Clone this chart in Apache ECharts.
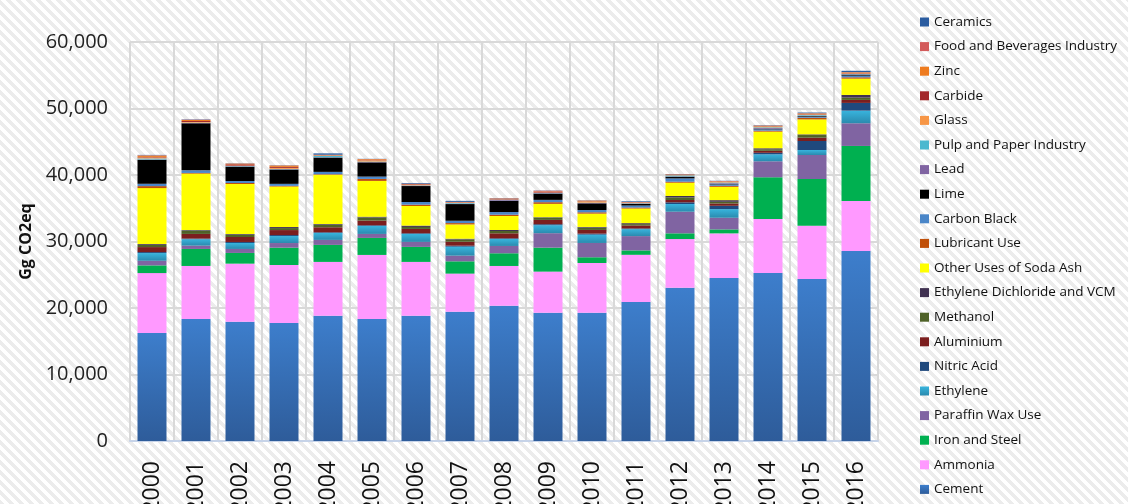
<!DOCTYPE html>
<html>
<head>
<meta charset="utf-8">
<script src="https://cdn.jsdelivr.net/npm/echarts@6.0.0/dist/echarts.min.js"></script>
<style>
  html, body { margin: 0; padding: 0; background: #fff; }
  #chart {
    width: 1128px;
    height: 504px;
    /* 斜线底纹 */
    background: repeating-linear-gradient(45deg, #ECECEC 0px, #ECECEC 3px, #ffffff 3px, #ffffff 7.07px);
  }
</style>
</head>
<body>
<div id="chart"></div>
<script>
// 年份
const years = ['2000', '2001', '2002', '2003', '2004', '2005', '2006', '2007', '2008',
  '2009', '2010', '2011', '2012', '2013', '2014', '2015', '2016'];

// 各排放源 (Gg CO2eq)，从下往上堆叠
const cement = [16250, 18350, 17950, 17750, 18850, 18350, 18850, 19450, 20350, 19300, 19300, 20900, 23050, 24500, 25270, 24360, 28580];
const ammonia = [9000, 7970, 8720, 8720, 8080, 9630, 8080, 5720, 5970, 6170, 7470, 7100, 7320, 6720, 8120, 8020, 7520];
const ironSteel = [1160, 2560, 1610, 2600, 2560, 2560, 2260, 1850, 1910, 3610, 860, 660, 860, 600, 6270, 7020, 8270];
const paraffinWax = [690, 500, 600, 700, 750, 600, 750, 850, 1100, 2170, 2150, 2150, 3250, 1750, 2400, 3610, 3410];
const ethylene = [1160, 960, 900, 1050, 1050, 1200, 1200, 1350, 1050, 1200, 1250, 1050, 1160, 1300, 1050, 750, 1900];
const nitricAcid = [150, 100, 150, 150, 100, 100, 100, 150, 100, 150, 150, 100, 250, 500, 230, 1350, 1160];
const aluminium = [750, 700, 750, 750, 750, 700, 650, 600, 750, 650, 560, 450, 350, 350, 300, 500, 450];
const methanol = [330, 520, 350, 300, 400, 480, 300, 350, 350, 350, 350, 200, 400, 250, 230, 400, 350];
const edcVcm = [120, 80, 100, 150, 100, 120, 200, 100, 150, 60, 100, 150, 200, 250, 150, 100, 400];
const sodaAsh = [8420, 8470, 7520, 6100, 7400, 5370, 2950, 2150, 2100, 2000, 2000, 2200, 2000, 2000, 2500, 2250, 2450];
const lubricant = [300, 100, 150, 100, 80, 300, 200, 200, 200, 250, 200, 150, 150, 150, 150, 250, 200];
const carbonBlack = [350, 390, 300, 300, 350, 350, 400, 350, 400, 350, 350, 300, 500, 220, 200, 150, 250];
const lime = [3610, 7070, 2150, 2150, 2150, 2140, 2400, 2510, 1700, 950, 1000, 250, 250, 80, 100, 100, 150];
const lead = [50, 50, 50, 50, 50, 50, 50, 50, 100, 50, 50, 50, 50, 100, 100, 50, 50];
const pulpPaper = [150, 50, 50, 50, 200, 70, 50, 100, 50, 50, 50, 50, 150, 100, 100, 100, 50];
const glass = [150, 100, 60, 150, 50, 150, 50, 50, 50, 50, 150, 50, 50, 100, 100, 100, 100];
const carbide = [80, 150, 200, 150, 50, 50, 100, 50, 100, 150, 50, 50, 50, 50, 50, 50, 50];
const zinc = [200, 150, 100, 200, 50, 150, 50, 50, 50, 50, 100, 50, 50, 50, 100, 100, 100];
const foodBeverages = [50, 50, 30, 30, 30, 30, 50, 30, 30, 80, 30, 30, 30, 30, 30, 30, 30];
const ceramics = [50, 50, 30, 30, 200, 30, 100, 150, 30, 30, 30, 100, 30, 30, 50, 100, 200];

// y 轴刻度
const yTicks = [0, 10000, 20000, 30000, 40000, 50000, 60000];

// 系列：名称、数据、颜色（底部在前）
const seriesDefs = [
  ['Cement', cement, ['#3D7ECC', '#2E5C9A']],
  ['Ammonia', ammonia, '#FF99FF'],
  ['Iron and Steel', ironSteel, '#00B050'],
  ['Paraffin Wax Use', paraffinWax, '#8064A2'],
  ['Ethylene', ethylene, ['#38B4DD', '#2A8AAE']],
  ['Nitric Acid', nitricAcid, '#1F497D'],
  ['Aluminium', aluminium, '#7B1E1E'],
  ['Methanol', methanol, '#4F6228'],
  ['Ethylene Dichloride and VCM', edcVcm, '#403151'],
  ['Other Uses of Soda Ash', sodaAsh, '#FFFF00'],
  ['Lubricant Use', lubricant, '#C0500A'],
  ['Carbon Black', carbonBlack, '#4A86C8'],
  ['Lime', lime, '#000000'],
  ['Lead', lead, '#8064A2'],
  ['Pulp and Paper Industry', pulpPaper, '#4BB8CF'],
  ['Glass', glass, '#F79646'],
  ['Carbide', carbide, '#A3282B'],
  ['Zinc', zinc, '#EE7B1F'],
  ['Food and Beverages Industry', foodBeverages, '#D35B5B'],
  ['Ceramics', ceramics, '#2A5CA0'],
];

function fillOf(color) {
  if (Array.isArray(color)) {
    return new echarts.graphic.LinearGradient(0, 0, 0, 1, [
      { offset: 0, color: color[0] },
      { offset: 1, color: color[1] },
    ]);
  }
  return color;
}

const chart = echarts.init(document.getElementById('chart'));

const option = {
  backgroundColor: 'transparent',
  animation: false,
  grid: { left: 130, right: 250, top: 42, bottom: 63, outerBoundsMode: 'none', containLabel: false },
  legend: {
    orient: 'vertical',
    left: 920,
    top: 15,
    padding: 0,
    icon: 'rect',
    itemWidth: 9,
    itemHeight: 9,
    itemGap: 10.6,
    data: seriesDefs.map((d) => d[0]).reverse(),
    textStyle: {
      fontFamily: 'Open Sans',
      fontSize: 13.5,
      lineHeight: 14,
      color: '#111',
    },
  },
  xAxis: {
    type: 'category',
    data: years,
    axisLine: { lineStyle: { color: '#C6D3E8', width: 2 } },
    axisTick: { show: false },
    splitLine: { show: true, lineStyle: { color: '#D9D9D9', width: 2 } },
    axisLabel: {
      rotate: 90,
      margin: 20,
      fontFamily: 'Open Sans',
      fontSize: 23,
      color: '#111',
    },
  },
  yAxis: {
    type: 'value',
    min: yTicks[0],
    max: yTicks[yTicks.length - 1],
    interval: 10000,
    name: 'Gg CO2eq',
    nameLocation: 'middle',
    nameGap: 94,
    nameTextStyle: {
      fontFamily: 'Open Sans',
      fontWeight: 'bold',
      fontSize: 16,
      color: '#111',
    },
    axisLine: { show: false },
    axisTick: { show: false },
    splitLine: { lineStyle: { color: '#D9D9D9', width: 2 } },
    axisLabel: {
      margin: 22,
      fontFamily: 'Open Sans',
      fontSize: 20,
      color: '#222',
      formatter: (v) => v.toLocaleString('en-US'),
    },
  },
  series: seriesDefs.map(([name, data, color]) => ({
    name,
    type: 'bar',
    stack: 'total',
    barWidth: 29,
    data,
    itemStyle: { color: fillOf(color) },
  })),
};

chart.setOption(option);
</script>
</body>
</html>
